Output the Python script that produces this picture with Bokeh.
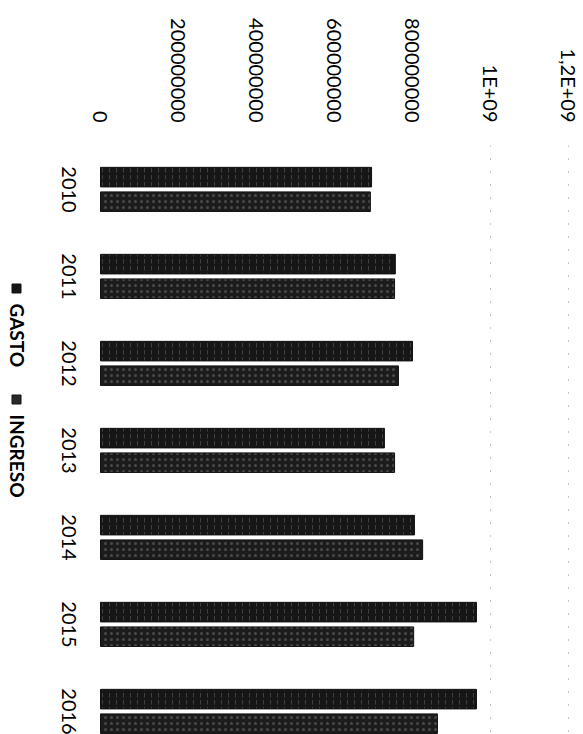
import math
from bokeh.plotting import figure
from bokeh.models import ColumnDataSource, Range1d, FixedTicker
from bokeh.transform import dodge
from bokeh.core.properties import value
from bokeh.embed import file_html
from bokeh.resources import INLINE

# ---- data ----
YEARS = [2010, 2011, 2012, 2013, 2014, 2015, 2016]
GASTO = [695e6, 756e6, 800e6, 728e6, 805e6, 964e6, 964e6]
INGRESO = [692e6, 754e6, 764e6, 754e6, 826e6, 803e6, 864e6]
SERIES = ["GASTO", "INGRESO"]
TICKS = [0, 200000000, 400000000, 600000000, 800000000, 1000000000, 1200000000]
TICK_LABELS = ["0", "200000000", "400000000", "600000000", "800000000", "1E+09", "1,2E+09"]

# ---- layout constants ----
W, H = 583, 734
TOP = 145                 # frame top inside the figure
PX_PER_UNIT = 78 / 2e8    # pixels per value unit
ZERO_X = 100              # pixel of value 0
PX_PER_YEAR = 87.0
YEAR0_PX = 189            # pixel centre of first year group

def xval(px):
    return (px - ZERO_X) / PX_PER_UNIT

def yval(py):
    return YEARS[0] + (py - YEAR0_PX) / PX_PER_YEAR

p = figure(width=W, height=H, output_backend="svg", toolbar_location=None,
           x_axis_location="above", y_axis_location=None,
           x_range=Range1d(xval(0), xval(W)),
           y_range=Range1d(start=yval(H), end=yval(TOP)),
           min_border_left=0, min_border_right=0, min_border_bottom=0,
           min_border_top=TOP)
p.outline_line_color = None
p.background_fill_color = "white"
p.border_fill_color = "white"

src = ColumnDataSource(dict(year=YEARS, gasto=GASTO, ingreso=INGRESO))

p.hbar(y=dodge("year", -0.142, range=p.y_range), left=0, right="gasto", height=0.225,
       source=src, fill_color="#161616", line_color="#111111", line_width=1,
       hatch_pattern=":", hatch_color="white", hatch_alpha=0.18, hatch_scale=7)
p.hbar(y=dodge("year", 0.14, range=p.y_range), left=0, right="ingreso", height=0.225,
       source=src, fill_color="#1c1c1c", line_color="#111111", line_width=1,
       hatch_pattern=".", hatch_color="white", hatch_alpha=0.2, hatch_scale=6)

# value axis (top)
ax = p.xaxis[0]
ax.ticker = FixedTicker(ticks=TICKS)
ax.major_label_overrides = {t: l for t, l in zip(TICKS, TICK_LABELS)}
ax.major_label_orientation = -math.pi / 2
ax.major_label_text_font = "Lato"
ax.major_label_text_font_size = "20px"
ax.major_label_text_color = "black"
ax.major_label_standoff = 17
ax.axis_line_color = None
ax.major_tick_line_color = None
ax.minor_tick_line_color = None

p.xgrid.ticker = FixedTicker(ticks=TICKS[-2:])
p.xgrid.grid_line_color = "#888888"
p.xgrid.grid_line_dash = "1 12"
p.xgrid.grid_line_width = 1
p.ygrid.grid_line_color = None

# year labels
p.text(x=[xval(68)] * len(YEARS), y=YEARS, text=[str(y) for y in YEARS],
       angle=-math.pi / 2, text_align="center", text_baseline="middle",
       text_font=value("Lato"), text_font_size="20px", text_color="black")

# legend (rotated)
mark_py = [288, 399]
p.scatter(x=[xval(16)] * 2, y=[yval(v) for v in mark_py], marker="square", size=9,
          fill_color=["#161616", "#2a2a2a"], line_color="#111111")
p.text(x=[xval(17)] * 2, y=[yval(v + 15) for v in mark_py], text=SERIES,
       angle=-math.pi / 2, text_align="left", text_baseline="middle",
       text_font=value("Lato"), text_font_size="19px", text_font_style="bold",
       text_color="black")

open("out.html", "w").write(file_html(p, INLINE))
